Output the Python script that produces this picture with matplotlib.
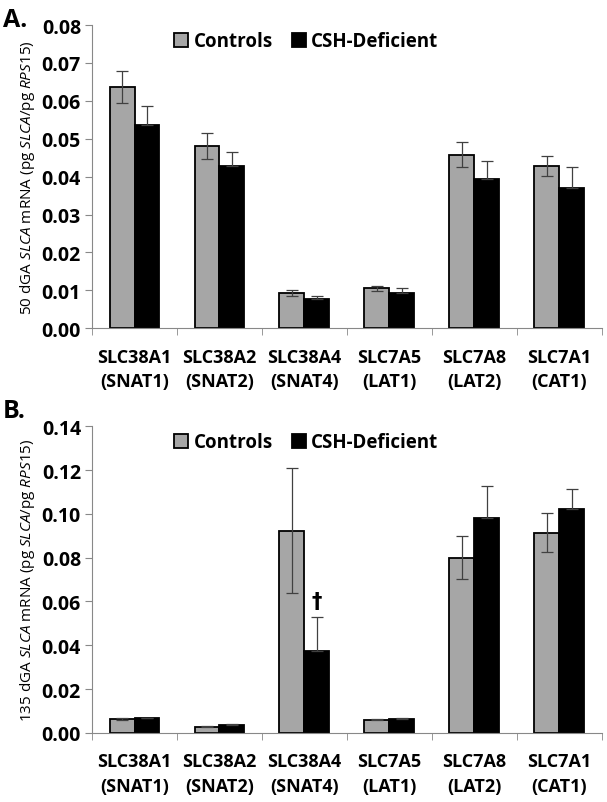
import matplotlib
matplotlib.use('Agg')
import matplotlib.pyplot as plt
import numpy as np

plt.rcParams['font.family'] = ['Open Sans', 'DejaVu Sans']
plt.rcParams['mathtext.fontset'] = 'custom'
plt.rcParams['mathtext.rm'] = 'Open Sans'
plt.rcParams['mathtext.it'] = 'Open Sans:italic'

genes = ['SLC38A1\n(SNAT1)', 'SLC38A2\n(SNAT2)', 'SLC38A4\n(SNAT4)',
         'SLC7A5\n(LAT1)', 'SLC7A8\n(LAT2)', 'SLC7A1\n(CAT1)']

# panel A: 50 dGA
ctrl_50 = [0.0636, 0.0481, 0.0092, 0.0105, 0.0458, 0.0428]
ctrl_50_err = [0.0043, 0.0034, 0.0008, 0.0006, 0.0033, 0.0027]
csh_50 = [0.0536, 0.0428, 0.0078, 0.0094, 0.0395, 0.0370]
csh_50_err = [0.0050, 0.0037, 0.0007, 0.0011, 0.0045, 0.0056]

# panel B: 135 dGA
ctrl_135 = [0.0063, 0.0028, 0.0922, 0.0060, 0.0800, 0.0913]
ctrl_135_err = [0.0003, 0.0002, 0.0285, 0.0003, 0.0098, 0.0089]
csh_135 = [0.0066, 0.0037, 0.0375, 0.0062, 0.0980, 0.1021]
csh_135_err = [0.0003, 0.0003, 0.0153, 0.0004, 0.0146, 0.0092]

fig = plt.figure(figsize=(6.07, 8.03), dpi=100)
axA = fig.add_axes([0.1516, 0.590, 0.840, 0.3776])
axB = fig.add_axes([0.1516, 0.086, 0.840, 0.382])

x = np.arange(len(genes))
w = 0.294


def draw(ax, c, ce, d, de, ymax, step, ylabel):
    ax.bar(x - w / 2, c, w, color='#a6a6a6', edgecolor='black', linewidth=1.3,
           label='Controls', zorder=2)
    ax.bar(x + w / 2, d, w, color='black', edgecolor='black', linewidth=1.3,
           label='CSH-Deficient', zorder=2)
    ax.errorbar(x - w / 2, c, yerr=ce, fmt='none', ecolor='#404040',
                elinewidth=0.9, capsize=4, capthick=0.9, zorder=3)
    ax.errorbar(x + w / 2, d, yerr=[np.zeros(len(de)), de], fmt='none',
                ecolor='#404040', elinewidth=0.9, capsize=4, capthick=0.9, zorder=3)
    ax.set_xlim(-0.5, len(genes) - 0.5)
    ax.set_ylim(0, ymax)
    ticks = np.arange(0, ymax + step / 2, step)
    ax.set_yticks(ticks)
    ax.set_yticklabels(['%.2f' % v for v in ticks], fontsize=14, fontweight='bold')
    ax.set_xticks(x)
    ax.set_xticklabels(genes, fontsize=13, fontweight='bold', linespacing=1.45)
    ax.set_xticks(np.arange(-0.5, len(genes)), minor=True)
    ax.tick_params(axis='x', which='major', length=0, pad=14)
    ax.tick_params(axis='x', which='minor', length=5, color='#888888')
    ax.tick_params(axis='y', length=5, color='#888888', pad=3)
    for s in ['top', 'right']:
        ax.spines[s].set_visible(False)
    for s in ['left', 'bottom']:
        ax.spines[s].set_color('#888888')
    ax.set_ylabel(ylabel, fontsize=11, labelpad=3)
    ax.legend(loc='upper center', bbox_to_anchor=(0.42, 1.035), ncol=2,
              frameon=False, prop={'weight': 'bold', 'size': 13.5},
              handlelength=0.75, handleheight=0.75, handletextpad=0.3,
              columnspacing=1.0)


draw(axA, ctrl_50, ctrl_50_err, csh_50, csh_50_err, 0.08, 0.01,
     r'50 dGA $\mathit{SLCA}$ mRNA (pg $\mathit{SLCA}$/pg $\mathit{RPS15}$)')
draw(axB, ctrl_135, ctrl_135_err, csh_135, csh_135_err, 0.14, 0.02,
     r'135 dGA $\mathit{SLCA}$ mRNA (pg $\mathit{SLCA}$/pg $\mathit{RPS15}$)')

axB.text(x[2] + w / 2, csh_135[2] + csh_135_err[2] + 0.003, '†', ha='center',
         va='bottom', fontsize=15, fontweight='bold', family='DejaVu Sans')

fig.text(0.005, 0.990, 'A.', fontsize=18, fontweight='bold', va='top')
fig.text(0.005, 0.503, 'B.', fontsize=18, fontweight='bold', va='top')

fig.savefig('out.png', dpi=100)
